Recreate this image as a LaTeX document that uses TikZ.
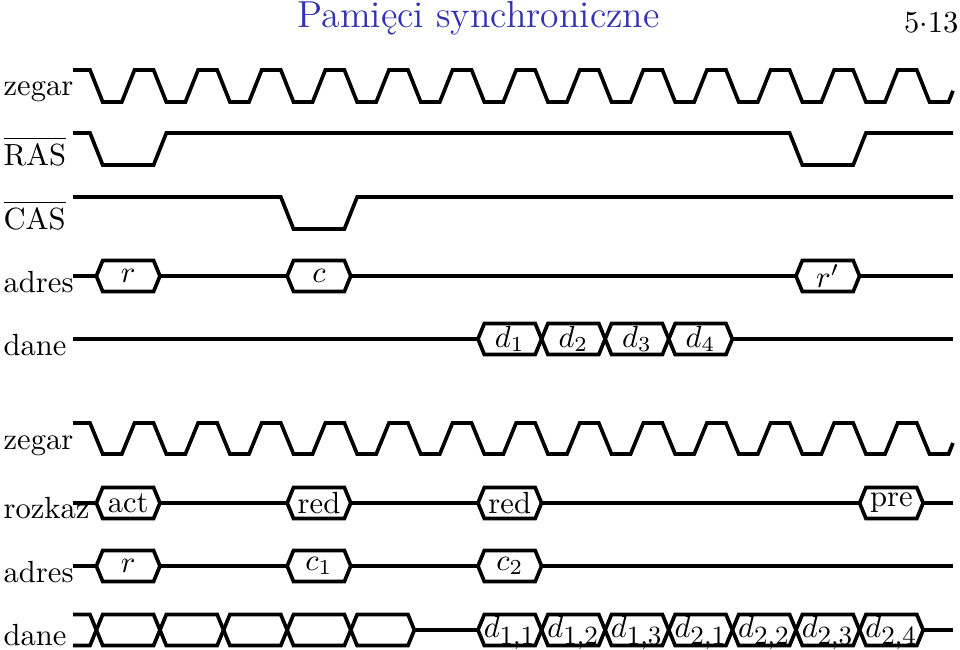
\documentclass[tikz,border=0pt]{standalone}
\usepackage{fontspec}
\definecolor{titleblue}{rgb}{0.2,0.2,0.7}
\tikzset{
  sig/.style={line width=1.2pt, line join=miter},
  lbl/.style={anchor=base west, inner sep=0pt},
  boxtext/.style={inner sep=0pt}
}
\newcommand\hexpath[2]{%
  \draw[sig] (#1,#2) -- ++(0.1,-15.5) -- ++(0.8,0) -- ++(0.1,15.5) -- ++(-0.1,15.5) -- ++(-0.8,0) -- cycle;}
\newcommand\sigbox[4]{%
  \hexpath{#1}{#2}
  \node[boxtext] (#3) at ({#1+0.5},#2) {#4};}
\newcommand\sigboxbase[4]{%
  \hexpath{#1}{#2}
  \node[boxtext, anchor=base] (#3) at ({#1+0.5},#2+7) {#4};}
\newcommand\dsub[2]{$d_{\mbox{\fontsize{8.6}{10}\selectfont #1,#2}}$}
\begin{document}
\begin{tikzpicture}[x=0.3268pt, y=-0.3268pt]
\useasboundingbox (0,0) rectangle (960,649);
% header
\node[anchor=base west, inner sep=0pt, text=titleblue, font=\fontsize{12.3}{14}\selectfont] (title) at (297,27) {Pamięci synchroniczne};
\node[anchor=base east, inner sep=0pt] (num) at (959,32) {$5{\cdot}13$};
% labels
\node[lbl] (l1) at (3,95) {zegar};
\node[lbl] (l2) at (3,165) {$\overline{\mathrm{RAS}}$};
\node[lbl] (l3) at (3,229) {$\overline{\mathrm{CAS}}$};
\node[lbl] (l4) at (3,292) {adres};
\node[lbl] (l5) at (3,355) {dane};
\node[lbl] (l6) at (3,449) {zegar};
\node[lbl] (l7) at (3,518) {rozkaz};
\node[lbl] (l8) at (3,582) {adres};
\node[lbl] (l9) at (3,645) {dane};
\begin{scope}[shift={(90,0)}, xscale=63.6]
% ---- top: clock
\draw[sig] (-0.267,70) foreach \k in {0,...,12} { -- (\k,70) -- (\k+0.2,102) -- (\k+0.5,102) -- (\k+0.7,70) } -- (13,70) -- (13.2,102) -- (13.5,102) -- (13.569,90.8);
% RAS
\draw[sig] (-0.267,133) -- (0,133) -- (0.2,165) -- (1,165) -- (1.2,133) -- (11,133) -- (11.2,165) -- (12,165) -- (12.2,133) -- (13.569,133);
% CAS
\draw[sig] (-0.267,197) -- (3,197) -- (3.2,229) -- (4,229) -- (4.2,197) -- (13.569,197);
% adres
\draw[sig] (-0.267,276) -- (0.1,276);
\draw[sig] (1.1,276) -- (3.1,276);
\draw[sig] (4.1,276) -- (11.1,276);
\draw[sig] (12.1,276) -- (13.569,276);
\sigbox{0.1}{276}{ar}{$r$}
\sigbox{3.1}{276}{ac}{$c$}
\sigbox{11.1}{276}{arp}{$r'$}
% dane
\draw[sig] (-0.267,339) -- (6.1,339);
\draw[sig] (10.1,339) -- (13.569,339);
\sigbox{6.1}{339}{d1}{$d_1$}
\sigbox{7.1}{339}{d2}{$d_2$}
\sigbox{8.1}{339}{d3}{$d_3$}
\sigbox{9.1}{339}{d4}{$d_4$}
% ---- bottom: clock
\draw[sig] (-0.267,423) foreach \k in {0,...,12} { -- (\k,423) -- (\k+0.2,454) -- (\k+0.5,454) -- (\k+0.7,423) } -- (13,423) -- (13.2,454) -- (13.5,454) -- (13.569,443);
% rozkaz
\draw[sig] (-0.267,503) -- (0.1,503);
\draw[sig] (1.1,503) -- (3.1,503);
\draw[sig] (4.1,503) -- (6.1,503);
\draw[sig] (7.1,503) -- (12.1,503);
\draw[sig] (13.1,503) -- (13.569,503);
\sigbox{0.1}{503}{cact}{act}
\sigbox{3.1}{503}{cred1}{red}
\sigbox{6.1}{503}{cred2}{red}
\sigbox{12.1}{503}{cpre}{pre}
% adres
\draw[sig] (-0.267,566) -- (0.1,566);
\draw[sig] (1.1,566) -- (3.1,566);
\draw[sig] (4.1,566) -- (6.1,566);
\draw[sig] (7.1,566) -- (13.569,566);
\sigbox{0.1}{566}{br}{$r$}
\sigbox{3.1}{566}{bc1}{$c_1$}
\sigbox{6.1}{566}{bc2}{$c_2$}
% dane
\draw[sig] (-0.267,614.5) -- (0,614.5) -- (0.1,630) -- (0,645.5) -- (-0.267,645.5);
\foreach \k in {0,...,4} { \hexpath{\k+0.1}{630} }
\draw[sig] (5.1,630) -- (6.1,630);
\draw[sig] (13.1,630) -- (13.569,630);
\sigboxbase{6.1}{630}{e11}{\dsub{1}{1}}
\sigboxbase{7.1}{630}{e12}{\dsub{1}{2}}
\sigboxbase{8.1}{630}{e13}{\dsub{1}{3}}
\sigboxbase{9.1}{630}{e21}{\dsub{2}{1}}
\sigboxbase{10.1}{630}{e22}{\dsub{2}{2}}
\sigboxbase{11.1}{630}{e23}{\dsub{2}{3}}
\sigboxbase{12.1}{630}{e24}{\dsub{2}{4}}
\end{scope}
\end{tikzpicture}
\end{document}
